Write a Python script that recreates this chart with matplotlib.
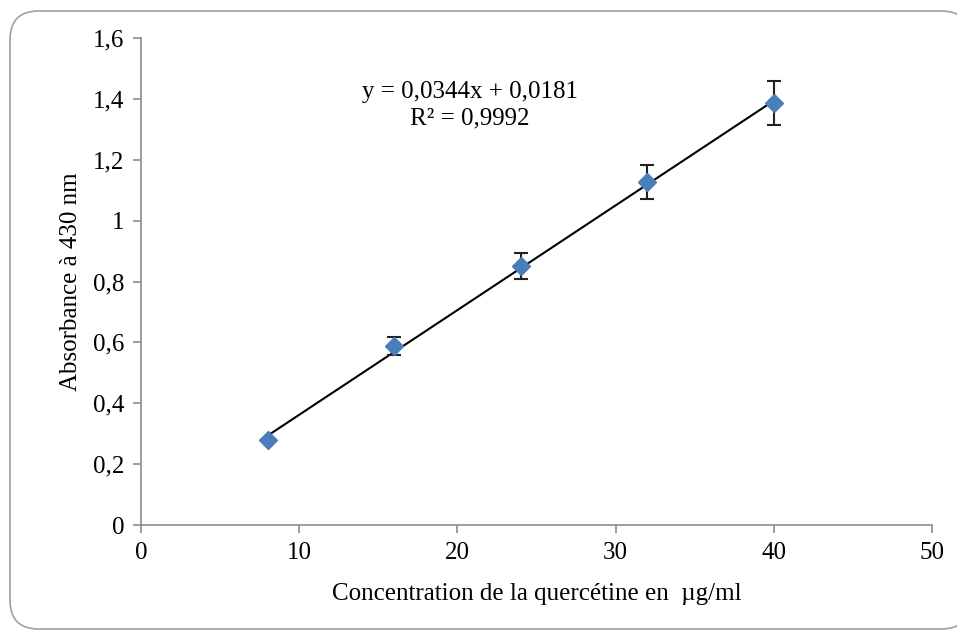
import matplotlib
matplotlib.use("Agg")
import matplotlib.pyplot as plt
from matplotlib.patches import FancyBboxPatch
from matplotlib.ticker import FuncFormatter

plt.rcParams['font.family'] = ['Liberation Serif', 'DejaVu Serif']

# Data
concentration = [8, 16, 24, 32, 40]
absorbance = [0.279, 0.588, 0.851, 1.127, 1.386]
errors = [0.005, 0.03, 0.042, 0.056, 0.072]

# Trendline coefficients
slope = 0.0344
intercept = 0.0181

fig = plt.figure(figsize=(9.57, 6.37), dpi=100)
ax = fig.add_axes([0.1473, 0.1758, 0.8266, 0.7645])

# Rounded outer frame
frame = FancyBboxPatch((10 / 957, 8 / 637), 960 / 957, 618 / 637,
                       boxstyle="round,pad=0,rounding_size=0.03",
                       transform=fig.transFigure, facecolor='white',
                       edgecolor='#a0a0a0', linewidth=1.2, zorder=-10,
                       mutation_aspect=957 / 637)
fig.patches.append(frame)

line_x = [concentration[0], concentration[-1]]
line_y = [slope * x + intercept for x in line_x]
ax.plot(line_x, line_y, color='black', linewidth=1.5, zorder=2)

ax.errorbar(concentration, absorbance, yerr=errors, fmt='D', color='#4a7ebb',
            markersize=9, ecolor='#222222', elinewidth=1.5, capsize=5,
            capthick=1.5, zorder=3)

ax.set_xlim(0, 50)
ax.set_ylim(0, 1.6)
ax.set_xticks([0, 10, 20, 30, 40, 50])
ax.set_yticks([0, 0.2, 0.4, 0.6, 0.8, 1.0, 1.2, 1.4, 1.6])
ax.yaxis.set_major_formatter(FuncFormatter(
    lambda v, p: ('%g' % round(v, 1)).replace('.', ',')))

for side in ['top', 'right']:
    ax.spines[side].set_visible(False)
for side in ['left', 'bottom']:
    ax.spines[side].set_color('#8c8c8c')
    ax.spines[side].set_linewidth(1.2)
ax.tick_params(axis='both', direction='out', length=6, width=1.2,
               color='#8c8c8c', labelsize=18, pad=6)

ax.set_xlabel('Concentration de la quercétine en  µg/ml', fontsize=18, labelpad=14)
ax.set_ylabel('Absorbance à 430 nm', fontsize=18, labelpad=8)

ax.text(20.8, 1.423, 'y = 0,0344x + 0,0181', fontsize=18, ha='center', va='center')
ax.text(20.8, 1.335, 'R² = 0,9992', fontsize=18, ha='center', va='center')

fig.savefig('out.png', dpi=100, facecolor='white')
